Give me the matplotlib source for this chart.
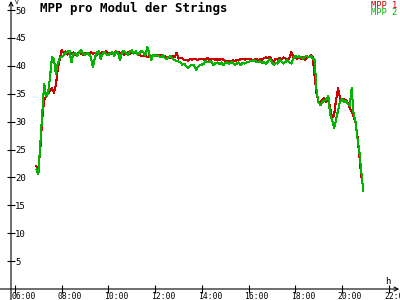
import numpy as np
import matplotlib
matplotlib.use("Agg")
import matplotlib.pyplot as plt
from matplotlib.transforms import ScaledTranslation

# --- data (5 minute samples from 06:55) ---
START_MIN = 6 * 60 + 55
STEP_MIN = 5

mpp1 = [
    22.0, 21.5, 25.0, 30.5, 34.0, 34.5, 35.0, 35.5, 36.0, 35.2, 36.5, 39.5, 41.2,
    # 08:00 - 10:00
    42.8, 42.3, 42.6, 42.0, 42.3, 42.1, 42.4, 42.0, 42.2, 42.5, 42.2, 41.9, 42.3,
    42.1, 42.2, 42.4, 42.2, 42.3, 42.0, 42.2, 42.3, 42.5, 42.4, 42.6, 42.2,
    # 10:05 - 12:00
    42.3, 42.1, 42.4, 42.2, 42.5, 42.2, 42.3, 42.0, 42.2, 42.4, 42.1, 42.3,
    42.2, 42.4, 42.1, 41.9, 41.8, 41.7, 41.9, 41.5, 41.8, 41.6, 42.0, 41.7,
    # 12:05 - 12:55
    42.0, 41.9, 41.9, 41.6, 41.8, 41.5, 41.6, 41.4, 41.7, 41.5, 42.3,
    # 13:00 - 17:55
    41.3, 41.4, 41.3, 41.0, 41.1, 40.9, 41.2, 41.1, 41.3, 41.2, 41.0, 41.3,
    41.3, 41.1, 41.2, 41.4, 41.0, 41.2, 41.3, 41.1, 41.2, 41.0, 41.3, 41.1,
    40.9, 40.8, 40.9, 40.7, 41.0, 40.8, 41.1, 41.0, 41.2, 41.3, 41.1, 41.2,
    41.3, 41.2, 41.0, 41.1, 41.3, 40.9, 41.2, 41.1, 41.4, 41.5, 41.3, 41.6,
    40.9, 40.7, 41.3, 41.1, 41.4, 41.2, 41.5, 41.3, 41.0, 41.4, 42.5, 41.6,
    # 18:00 - 18:45
    41.6, 41.3, 41.7, 41.2, 41.5, 41.1, 41.4, 41.6, 41.9, 41.5,
    # 18:50 - 20:55
    38.0, 35.0, 33.6, 33.5, 34.0, 34.2, 33.5, 34.5, 32.3, 30.6, 31.2, 33.9, 36.0,
    34.2, 33.8, 34.0, 33.8, 33.4, 32.4, 31.8, 31.0, 29.8, 27.3, 23.7, 20.1, 18.0,
]

mpp2 = [
    21.4, 20.6, 26.0, 31.5, 36.8, 34.5, 35.0, 38.0, 41.5, 41.2, 38.5, 40.5, 41.4,
    # 08:00 - 10:00
    41.6, 41.9, 42.3, 42.5, 42.7, 40.6, 42.1, 42.3, 41.8, 42.4, 42.8, 42.2, 42.0,
    42.3, 42.1, 41.5, 39.7, 41.4, 42.4, 42.6, 41.2, 42.1, 42.5, 42.0, 41.9,
    # 10:05 - 12:00
    42.2, 42.5, 41.8, 42.6, 42.3, 41.0, 42.4, 42.7, 42.3, 42.0, 42.5, 42.8,
    42.2, 42.6, 42.0, 42.3, 42.7, 42.4, 41.9, 43.4, 42.2, 41.0, 42.0, 41.8,
    # 12:05 - 12:55
    41.9, 41.7, 41.5, 41.9, 41.4, 41.2, 41.6, 41.7, 41.3, 41.0, 40.9,
    # 13:00 - 17:55
    40.8, 40.6, 40.2, 40.4, 39.9, 39.6, 40.0, 40.2, 40.1, 39.3, 39.8, 40.1,
    40.2, 40.4, 40.9, 40.6, 40.8, 40.7, 40.1, 40.5, 40.6, 40.3, 40.6, 40.1,
    40.5, 40.6, 40.3, 40.7, 40.5, 40.2, 40.4, 40.6, 40.1, 40.5, 40.4, 40.6,
    40.7, 40.9, 40.8, 41.0, 40.7, 40.6, 40.8, 40.5, 40.7, 40.4, 40.8, 41.2,
    40.7, 40.1, 40.5, 40.4, 41.1, 40.8, 40.4, 40.7, 41.0, 40.6, 40.4, 41.3,
    # 18:00 - 18:45
    41.8, 41.5, 41.7, 41.6, 41.3, 41.6, 41.8, 41.5, 41.7, 41.3,
    # 18:50 - 20:55
    41.0, 35.5, 33.4, 33.0, 33.5, 33.8, 34.0, 34.6, 31.2, 30.2, 28.8, 30.3, 32.0,
    33.6, 34.0, 33.6, 33.7, 33.2, 32.8, 36.0, 31.5, 30.0, 27.0, 24.5, 21.0, 17.5,
]

hour_ticks = [6, 8, 10, 12, 14, 16, 18, 20, 22]
hour_labels = ["06:00", "08:00", "10:00", "12:00", "14:00", "16:00", "18:00", "20:00", "22:00"]
value_ticks = [5, 10, 15, 20, 25, 30, 35, 40, 45, 50]
series_names = ["MPP 1", "MPP 2"]
series_colors = ["#cc0000", "#00b400"]

hours = (START_MIN + STEP_MIN * np.arange(len(mpp1))) / 60.0

plt.rcParams["font.family"] = "DejaVu Sans Mono"

fig = plt.figure(figsize=(4, 3), dpi=100)
ax = fig.add_axes([11 / 400, 11 / 300, 384 / 400, 284 / 300])

for vals, color in zip([mpp1, mpp2], series_colors):
    ax.plot(hours, vals, color=color, lw=0.75, antialiased=False)

ax.set_xlim(6 - 4 / 23.35, 6 + 380 / 23.35)
ax.set_ylim(0, 284 / 5.58)

for s in ax.spines.values():
    s.set_visible(False)

# axes with arrow heads, crossing a bit past the origin
ax.annotate("", xy=(1.011, 0), xytext=(-0.03, 0), xycoords="axes fraction",
            arrowprops=dict(arrowstyle="->", lw=0.8, color="black",
                            shrinkA=0, shrinkB=0, mutation_scale=7))
ax.annotate("", xy=(0, 1.014), xytext=(0, -0.04), xycoords="axes fraction",
            arrowprops=dict(arrowstyle="->", lw=0.8, color="black",
                            shrinkA=0, shrinkB=0, mutation_scale=7))

ax.set_xticks(hour_ticks)
ax.set_xticklabels(hour_labels, fontsize=5.8)
ax.set_yticks(value_ticks)
ax.set_yticklabels([str(v) for v in value_ticks], fontsize=6.5)
ax.tick_params(axis="both", direction="inout", length=6, width=0.8)
ax.tick_params(axis="x", pad=-0.5)
ax.tick_params(axis="y", pad=-6)

shift = ScaledTranslation(-4 / 100, 0, fig.dpi_scale_trans)
for lab in ax.get_xticklabels():
    lab.set_horizontalalignment("left")
    lab.set_transform(lab.get_transform() + shift)
for lab in ax.get_yticklabels():
    lab.set_horizontalalignment("left")

fig.text(40 / 400, 1 - 8 / 300, "MPP pro Modul der Strings", fontsize=9,
         fontweight="bold", va="center", ha="left")
fig.text(397 / 400, 1 - 5 / 300, series_names[0], color=series_colors[0],
         fontsize=6.3, va="center", ha="right")
fig.text(397 / 400, 1 - 12.5 / 300, series_names[1], color=series_colors[1],
         fontsize=6.3, va="center", ha="right")
fig.text(15 / 400, 1 - 3 / 300, "V", fontsize=4.5, va="center", ha="left")
fig.text(385 / 400, 1 - 281 / 300, "h", fontsize=6.5, va="center", ha="left")

fig.savefig("out.png", dpi=100)
